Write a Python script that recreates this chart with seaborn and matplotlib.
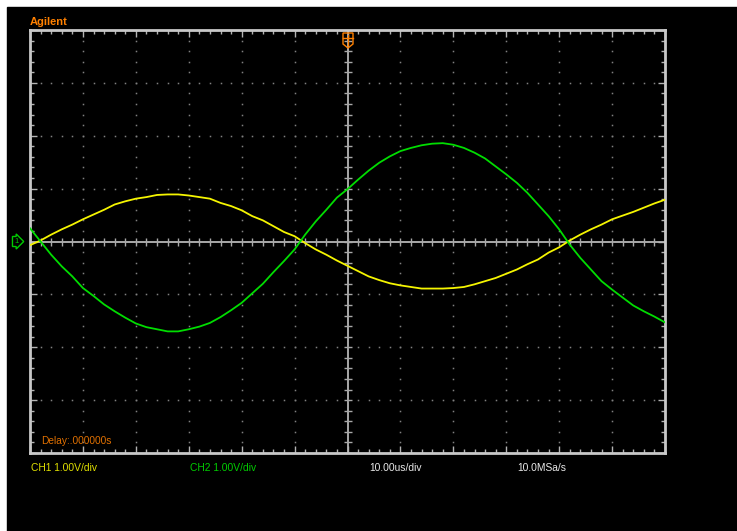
import numpy as np
import pandas as pd
import seaborn as sns
import matplotlib.pyplot as plt
from matplotlib.patches import Rectangle, Polygon
from matplotlib.lines import Line2D

# values (time in us, volts), one reading every 2 us
time_us = [-60, -58, -56, -54, -52, -50, -48, -46, -44, -42, -40, -38, -36, -34, -32, -30,
           -28, -26, -24, -22, -20, -18, -16, -14, -12, -10, -8, -6, -4, -2, 0,
           2, 4, 6, 8, 10, 12, 14, 16, 18, 20, 22, 24, 26, 28, 30,
           32, 34, 36, 38, 40, 42, 44, 46, 48, 50, 52, 54, 56, 58, 60]
ch1_v = [-0.07, 0.02, 0.13, 0.23, 0.32, 0.42, 0.51, 0.60, 0.70, 0.76, 0.81, 0.84, 0.88, 0.89, 0.89, 0.87,
         0.84, 0.81, 0.73, 0.67, 0.59, 0.48, 0.40, 0.29, 0.18, 0.10, -0.03, -0.15, -0.25, -0.36, -0.46,
         -0.56, -0.66, -0.73, -0.79, -0.83, -0.86, -0.89, -0.89, -0.89, -0.88, -0.86, -0.81, -0.75, -0.69, -0.61,
         -0.53, -0.43, -0.34, -0.21, -0.11, 0.02, 0.13, 0.23, 0.32, 0.42, 0.49, 0.56, 0.64, 0.72, 0.79]
ch2_v = [0.25, 0.00, -0.25, -0.47, -0.66, -0.88, -1.03, -1.19, -1.32, -1.44, -1.55, -1.62, -1.66, -1.70, -1.70, -1.66,
         -1.61, -1.54, -1.43, -1.30, -1.16, -0.98, -0.80, -0.58, -0.37, -0.15, 0.13, 0.38, 0.60, 0.83, 0.99,
         1.17, 1.34, 1.49, 1.61, 1.71, 1.77, 1.82, 1.85, 1.86, 1.83, 1.77, 1.68, 1.57, 1.42, 1.27,
         1.11, 0.92, 0.70, 0.48, 0.23, -0.06, -0.31, -0.53, -0.75, -0.91, -1.06, -1.21, -1.32, -1.42, -1.53]

labels = ['CH1 1.00V/div', 'CH2 1.00V/div', '10.00us/div', '10.0MSa/s']

df = pd.DataFrame({'t': time_us, 'CH1': ch1_v, 'CH2': ch2_v})
df = df.melt(id_vars='t', var_name='ch', value_name='v')

W, H = 737, 531
fig = plt.figure(figsize=(W / 100, H / 100), dpi=100)
fig.patch.set_facecolor('white')
fig.add_artist(Rectangle((7 / W, 0), 1, 1 - 7 / H, transform=fig.transFigure,
                         color='black', zorder=-10))

ax = fig.add_axes([30 / W, 78 / H, 635 / W, 423 / H])
ax.set_facecolor('black')
ax.set_xlim(-60, 60)
ax.set_ylim(-4, 4)

grid_c = '#808080'
# dotted graticule
for gx in range(-50, 51, 10):
    if gx != 0:
        yy = np.arange(-4, 4.01, 0.2)
        ax.plot(np.full_like(yy, gx), yy, ls='none', marker='s', ms=1.1, color=grid_c, mew=0)
for gy in range(-3, 4):
    if gy != 0:
        xx = np.arange(-60, 60.1, 2)
        ax.plot(xx, np.full_like(xx, gy), ls='none', marker='s', ms=1.1, color=grid_c, mew=0)

# center crosshair with small ticks
ax.axhline(0, color='#a8a8a8', lw=1.4, zorder=1)
ax.axvline(0, color='#a8a8a8', lw=1.4, zorder=1)
xx = np.arange(-60, 60.1, 2)
ax.plot(xx, np.zeros_like(xx), ls='none', marker='|', ms=6, mew=1, color='#a8a8a8')
yy = np.arange(-4, 4.01, 0.2)
ax.plot(np.zeros_like(yy), yy, ls='none', marker='_', ms=6, mew=1, color='#a8a8a8')

sns.lineplot(data=df, x='t', y='v', hue='ch', palette={'CH1': '#f5f500', 'CH2': '#00dd00'},
             estimator=None, sort=False, legend=False, linewidth=1.3, ax=ax, zorder=3)

ax.set_xticks(np.arange(-60, 61, 10))
ax.set_xticks(np.arange(-60, 61, 2), minor=True)
ax.set_yticks(np.arange(-4, 5, 1))
ax.set_yticks(np.arange(-4, 4.01, 0.2), minor=True)
ax.tick_params(which='both', direction='in', top=True, right=True,
               labelbottom=False, labelleft=False, color='#b4b4b4', width=1)
ax.tick_params(which='major', length=5)
ax.tick_params(which='minor', length=3)
ax.set_xlabel('')
ax.set_ylabel('')
for sp in ax.spines.values():
    sp.set_color('#c8c8c8')
    sp.set_linewidth(2)

font = 'Liberation Sans'
fig.text(30 / W, 1 - 22 / H, 'Agilent', color='#ff8000', fontsize=8, fontweight='bold',
         family=font, va='center', ha='left')
fig.text(41 / W, 1 - 441 / H, 'Delay:.000000s', color='#e07000', fontsize=7.3,
         family=font, va='center', ha='left')
label_x = [31, 190, 369, 517]
label_c = ['#e0e000', '#00cc00', '#e8e8e8', '#e8e8e8']
for lab, lx, lc in zip(labels, label_x, label_c):
    fig.text(lx / W, 1 - 468 / H, lab, color=lc, fontsize=7.4, family=font, va='center', ha='left')

# ground marker on the left
fig.text(14 / W, 1 - 241.5 / H, '1', color='#00cc00', fontsize=5.5, family=font,
         va='center', ha='left',
         bbox=dict(boxstyle='rarrow,pad=0.2', fc='black', ec='#00cc00', lw=1))

# trigger marker at the top
def px(x, y):
    return (x / W, 1 - y / H)

fig.add_artist(Polygon([px(343, 33), px(353, 33), px(353, 44), px(348, 48), px(343, 44)],
                       closed=True, fill=False, ec='#ff8000', lw=1, transform=fig.transFigure))
fig.add_artist(Line2D([343 / W, 353 / W], [1 - 38 / H, 1 - 38 / H], color='#ff8000', lw=1,
                      transform=fig.transFigure))
fig.add_artist(Line2D([348 / W, 348 / W], [1 - 35 / H, 1 - 45 / H], color='#ff8000', lw=1,
                      transform=fig.transFigure))

fig.savefig('out.png', dpi=100, facecolor=fig.get_facecolor())
